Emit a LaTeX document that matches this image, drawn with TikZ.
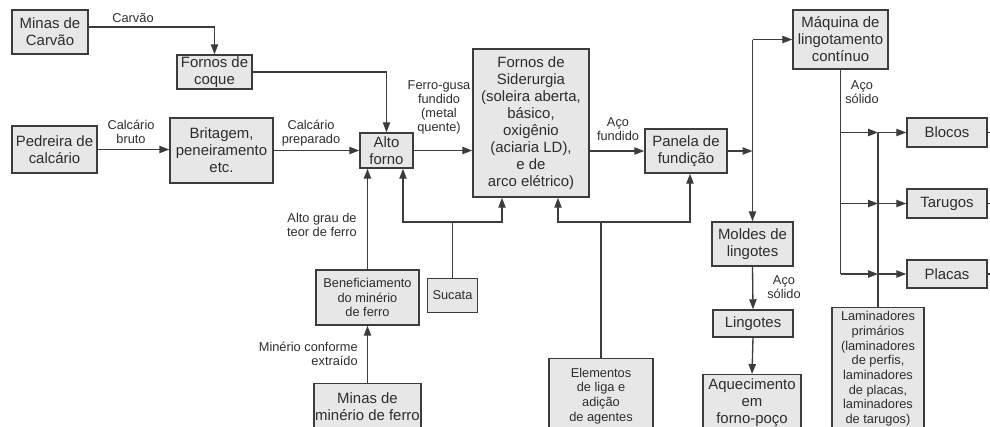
\documentclass[tikz,border=0pt]{standalone}
\usepackage{fontspec}
\setmainfont{Liberation Sans}
\usetikzlibrary{arrows.meta}
\definecolor{boxfill}{RGB}{231,231,231}
\definecolor{linec}{RGB}{60,60,60}
\definecolor{textc}{RGB}{45,45,45}
\newcommand\bigf{\fontsize{11.2}{12.7}\selectfont}
\newcommand\smf{\fontsize{9.6}{11}\selectfont}
\newcommand\labf{\fontsize{9.6}{10.7}\selectfont}
\tikzset{
  box/.style={draw=linec, fill=boxfill, line width=1.1pt, align=center, inner sep=1pt, text=textc, font=\bigf},
  sbox/.style={box, font=\smf},
  lab/.style={align=center, text=textc, font=\labf, inner sep=0pt},
  arr/.style={draw=linec, line width=1pt, -{Triangle[length=7.5pt,width=5.5pt]}},
  ln/.style={draw=linec, line width=1pt},
  sz/.style 2 args={minimum width=#1*0.75pt, minimum height=#2*0.75pt}
}
\begin{document}
\begin{tikzpicture}[x=0.75pt, y=-0.75pt]
\useasboundingbox (0,0) rectangle (990,426);
\clip (0,0) rectangle (990,426);
% boxes
\node[box, sz={76}{44}] (mc) at (50,32) {Minas de\\Carvão};
\node[box, sz={75}{34}] (fc) at (214.5,72) {Fornos de\\coque};
\node[box, sz={85}{47}] (pc) at (54.5,149.5) {Pedreira de\\calcário};
\node[box, sz={103}{65}] (br) at (221.5,150.5) {Britagem,\\peneiramento\\etc.};
\node[box, sz={53}{35}] (af) at (386.5,150.5) {Alto\\forno};
\node[box, sz={116}{148}] (fs) at (531,123) {Fornos de\\Siderurgia\\(soleira aberta,\\básico,\\oxigênio\\(aciaria LD),\\e de\\arco elétrico)};
\node[box, sz={82}{44}] (pf) at (686,151) {Panela de\\fundição};
\node[box, sz={95}{59}] (mq) at (840.5,39.5) {Máquina de\\lingotamento\\contínuo};
\node[box, sz={80}{29}] (bl) at (947,132.5) {Blocos};
\node[box, sz={80}{29}] (ta) at (947,203.5) {Tarugos};
\node[box, sz={80}{28}] (pl) at (947,274) {Placas};
\node[sbox, sz={92}{122}, anchor=north] (lam) at (878,307) {Laminadores\\primários\\(laminadores\\de perfis,\\laminadores\\de placas,\\laminadores\\de tarugos)};
\node[box, sz={81}{44}] (mo) at (752.5,244) {Moldes de\\lingotes};
\node[box, sz={80}{27}] (li) at (753,323.5) {Lingotes};
\node[box, sz={98}{56}, anchor=north] (aq) at (752,374) {Aquecimento\\em\\forno-poço};
\node[sbox, sz={104}{74}, anchor=north] (el) at (601,358) {Elementos\\de liga e\\adição\\de agentes};
\node[sbox, sz={50}{34}] (su) at (452.5,295.5) {Sucata};
\node[sbox, sz={103}{55}] (be) at (367.5,297.5) {Beneficiamento\\do minério\\de ferro};
\node[box, sz={103}{45}, anchor=north] (mm) at (367.5,383) {Minas de\\minério de ferro};
% labels
\node[lab] (l1) at (133,18) {Carvão};
\node[lab] (l2) at (131,132) {Calcário\\bruto};
\node[lab] (l3) at (311,133) {Calcário\\preparado};
\node[lab] (l4) at (439,107.5) {Ferro-gusa\\fundido\\(metal\\quente)};
\node[lab] (l5) at (618,129) {Aço\\fundido};
\node[lab] (l6) at (862,92) {Aço\\sólido};
\node[lab] (l7) at (322,225) {Alto grau de\\teor de ferro};
\node[lab, align=right, anchor=east] (l8) at (358,354) {Minério conforme\\extraído};
\node[lab] (l9) at (784,287) {Aço\\sólido};
% junction coordinates
\coordinate (sL) at (403,222);
\coordinate (sR) at (502,222);
\coordinate (eL) at (558,222);
\coordinate (eR) at (690,222);
% connectors
\draw[arr] ([yshift=3.75pt]mc.east) -| (fc.north);
\draw[arr] (fc.east) -| (af.north);
\draw[arr] (pc.east) -- (pc.east -| br.west);
\draw[arr] (br.east) -- (af.west);
\draw[arr] (af.east) -- (af.east -| fs.west);
\draw[arr] (pf.west -| fs.east) -- (pf.west);
\draw[arr] (pf.east) -- (pf.east -| mo.north);
\draw[arr] (mo.north |- mq.west) -- (mq.west);
\draw[arr] (mo.north |- mq.west) -- (mo.north);
\draw[ln] (mq.south) -- (mq.south |- pl.west);
\foreach \b in {bl,ta,pl}{
  \draw[arr] (mq.south |- \b.west) -- (lam.north |- \b.west);
  \draw[arr] (lam.north |- \b.west) -- (\b.west);
  \draw[ln] (\b.east) -- ++(12,0);
}
\draw[ln] (lam.north) -- (lam.north |- bl.west);
\draw[arr] (mo.south) -- (li.north);
\draw[arr] (li.south) -- (aq.north);
\draw[arr] (be.north) -- (be.north |- af.south);
\draw[arr] (mm.north) -- (be.south);
\draw[ln] (su.north) -- (su.north |- sL);
\draw[arr] (sR) -- (sL) -- (sL |- af.south);
\draw[arr] (sL) -- (sR) -- (sR |- fs.south);
\draw[ln] (el.north) -- (el.north |- eL);
\draw[arr] (eR) -- (eL) -- (eL |- fs.south);
\draw[arr] (eL) -- (eR) -- (eR |- pf.south);
\end{tikzpicture}
\end{document}
